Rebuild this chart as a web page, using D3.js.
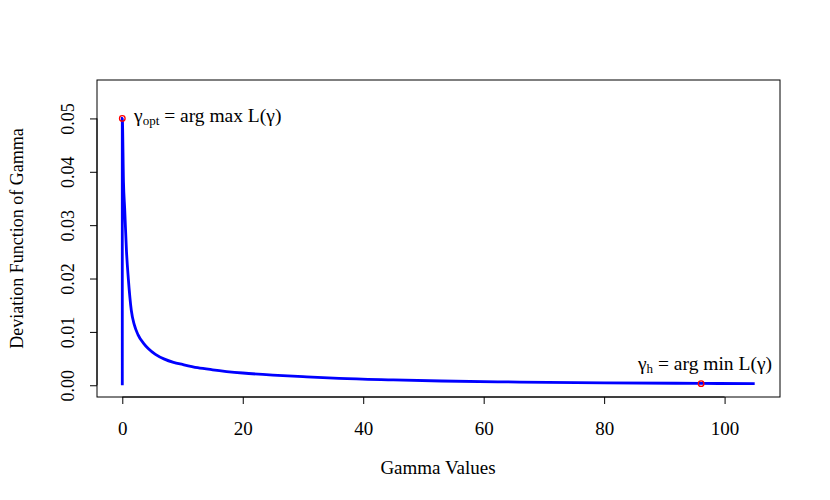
<!DOCTYPE html>
<html><head><meta charset="utf-8">
<script src="https://cdn.jsdelivr.net/npm/d3@7"></script>
<style>body{margin:0;background:#fff}svg{display:block}text{font-family:"Liberation Serif","Times New Roman",serif;fill:#000}</style>
</head><body><svg id="c" width="830" height="500"></svg>
<script>
const gammaX = [0, 0, 0.2, 0.4, 0.7, 1.0, 1.5, 2.0, 2.6, 3.5, 4.3, 5.5, 7, 8.5, 10, 12.5, 15, 20, 25, 30, 36, 45, 53, 66, 80, 96, 105];
const devY   = [0, 0.05, 0.038, 0.033, 0.025, 0.020, 0.0140, 0.0113, 0.0095, 0.0079, 0.0069, 0.0058, 0.0049, 0.0043, 0.0039, 0.0033, 0.0029, 0.0023, 0.0019, 0.0016, 0.00128, 0.001, 0.0008, 0.0006, 0.00045, 0.00035, 0.0003];
const markX = [0, 96.1];
const markY = [0.05, 0.0003];
const xTicks = [0, 20, 40, 60, 80, 100];
const yTicks = [0, 0.01, 0.02, 0.03, 0.04, 0.05];

const svg = d3.select("#c");
const L = 97, R = 780, T = 80, B = 397;
const x = d3.scaleLinear().domain([-4.2, 109.2]).range([L, R]);
const y = d3.scaleLinear().domain([-0.0022, 0.0572]).range([B, T]);

// axes
const xa = svg.append("g").attr("transform", `translate(0,${B})`)
  .call(d3.axisBottom(x).tickValues(xTicks).tickSize(7).tickFormat(d3.format("d")));
const ya = svg.append("g").attr("transform", `translate(${L},0)`)
  .call(d3.axisLeft(y).tickValues(yTicks).tickSize(7).tickFormat(d3.format(".2f")));
xa.select(".domain").attr("d", `M${x(0)},0H${x(100)}`);
ya.select(".domain").attr("d", `M0,${y(0)}V${y(0.05)}`);
[xa, ya].forEach(a => { a.selectAll("text").style("font-family", '"Liberation Serif",serif'); a.selectAll("line,path").attr("stroke", "#000"); });
xa.selectAll(".tick text").style("font-size", "19px").attr("y", 38).attr("dy", 0);
ya.selectAll(".tick text").style("font-size", "18px").attr("transform", "rotate(-90)").attr("x", 0).attr("y", -23).attr("dy", 0).attr("text-anchor", "middle");

// box
svg.append("rect").attr("x", L).attr("y", T).attr("width", R - L).attr("height", B - T)
  .attr("fill", "none").attr("stroke", "#000").attr("stroke-width", 1);

// curve
const pts = gammaX.map((g, i) => [g, devY[i]]);
svg.append("path").datum(pts).attr("fill", "none").attr("stroke", "#0000ff").attr("stroke-width", 2.8)
  .attr("d", d3.line().x(d => x(d[0])).y(d => y(d[1])).curve(d3.curveMonotoneX));

// markers
svg.selectAll(".mk").data(markX.map((g, i) => [g, markY[i]])).enter().append("circle")
  .attr("cx", d => x(d[0])).attr("cy", d => y(d[1])).attr("r", 2.8)
  .attr("fill", "none").attr("stroke", "#ff0000").attr("stroke-width", 1.3);

// annotations
const a1 = svg.append("text").attr("x", 134).attr("y", 122).style("font-size", "19.5px");
a1.append("tspan").text("γ");
a1.append("tspan").attr("dy", 3).style("font-size", "13px").text("opt");
a1.append("tspan").attr("dy", -3).text(" = arg max L(γ)");

const a2 = svg.append("text").attr("x", 772).attr("y", 370).attr("text-anchor", "end").style("font-size", "19.5px");
a2.append("tspan").text("γ");
a2.append("tspan").attr("dy", 3).style("font-size", "13px").text("h");
a2.append("tspan").attr("dy", -3).text(" = arg min L(γ)");

// axis titles
svg.append("text").attr("x", 438).attr("y", 474).attr("text-anchor", "middle").style("font-size", "19px").text("Gamma Values");
svg.append("text").attr("transform", `translate(23,${(T + B) / 2}) rotate(-90)`).attr("text-anchor", "middle").style("font-size", "18px").text("Deviation Function of Gamma");
</script></body></html>
